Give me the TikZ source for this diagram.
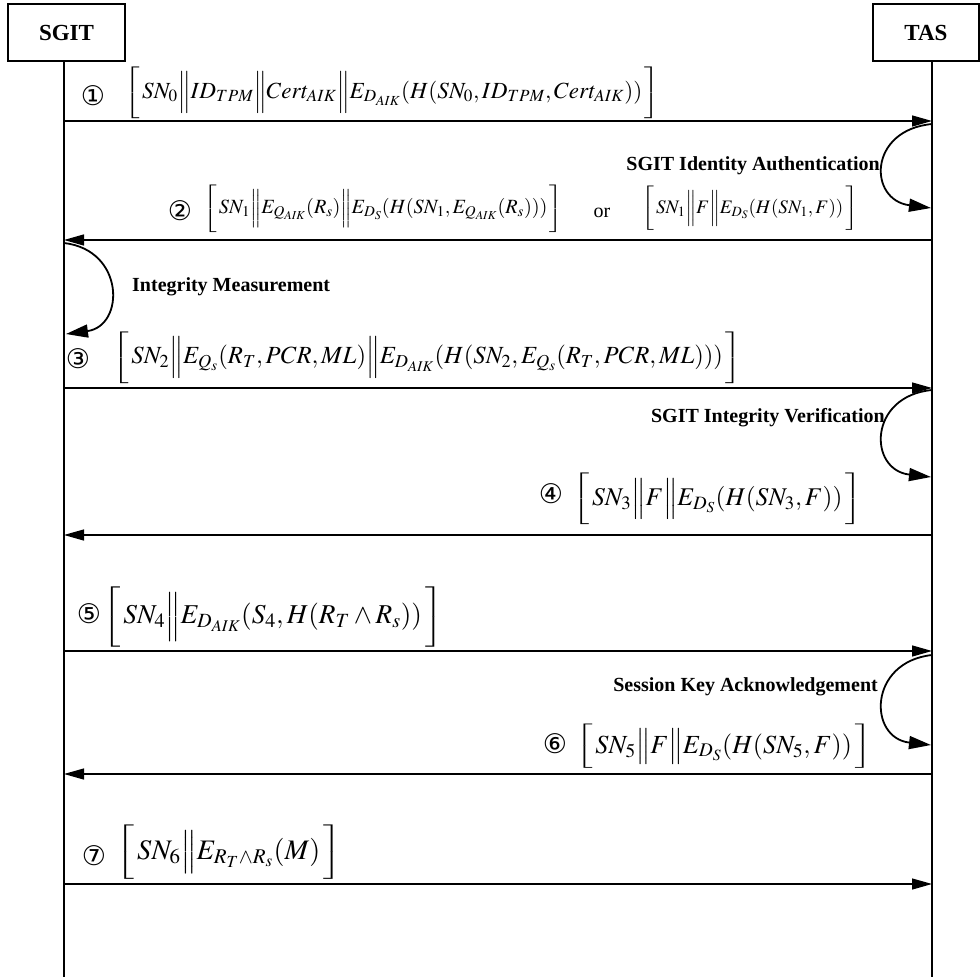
\documentclass[tikz,border=0pt]{standalone}
\usepackage{mathptmx}
\usepackage{fontspec}
\setmainfont{Liberation Serif}
\newfontfamily\circfont{DejaVu Sans}
\usepackage{graphicx}
\usetikzlibrary{arrows.meta}
% a tall delimiter glyph (#1), scaled vertically by #2 and #3, centred on the math axis
\newcommand{\tall}[3]{\mathord{\raisebox{0.25em}{\scalebox{1}[#2]{\scalebox{1}[#3]{\raisebox{-0.25em}{$\left#1\vrule height2.05em depth1.55em width0pt\right.$}}}}}}
% #1 = vertical factor, #2 = contents
\newcommand{\brk}[2]{\def\db{\tall{\|}{#1}{0.8}}\tall{[}{#1}{1}\,#2\,\tall{]}{#1}{1}}
\begin{document}
\setlength{\nulldelimiterspace}{0pt}
\begin{tikzpicture}[x=1pt,y=-1pt,
  hdr/.style={draw,line width=1.3pt,font=\bfseries\fontsize{23}{26}\selectfont,inner sep=0},
  life/.style={line width=2pt},
  msg/.style={line width=1.3pt,-{Triangle[length=20pt,width=11pt]}},
  proc/.style={line width=1.8pt,-{Triangle[length=22pt,width=13pt]}},
  lab/.style={inner sep=0,anchor=west,font=\fontsize{20}{24}\selectfont},
  circ/.style={inner sep=0,font=\circfont\fontsize{27}{30}\selectfont},
  act/.style={inner sep=0,font=\bfseries\fontsize{20}{24}\selectfont}]
\useasboundingbox (0,0) rectangle (980,977);
% headers
\node[hdr,minimum width=117pt,minimum height=57pt] (sgit) at (66.5,32.5) {SGIT};
\node[hdr,minimum width=106pt,minimum height=57pt] (tas) at (926,32.5) {TAS};
% lifelines
\coordinate (s0) at (64,61); \coordinate (s9) at (64,977);
\coordinate (t0) at (932,61); \coordinate (t9) at (932,977);
\draw[life] (s0) -- (s9);
\draw[life] (t0) -- (t9);
% message end points
\coordinate (s1) at (64,121);  \coordinate (t1) at (932,121);
\coordinate (s2) at (64,240);  \coordinate (t2) at (932,240);
\coordinate (s3) at (64,388);  \coordinate (t3) at (932,388);
\coordinate (s4) at (64,535);  \coordinate (t4) at (932,535);
\coordinate (s5) at (64,651);  \coordinate (t5) at (932,651);
\coordinate (s6) at (64,774);  \coordinate (t6) at (932,774);
\coordinate (s7) at (64,884);  \coordinate (t7) at (932,884);
\draw[msg] (s1) -- (t1);
\draw[msg] (t2) -- (s2);
\draw[msg] (s3) -- (t3);
\draw[msg] (t4) -- (s4);
\draw[msg] (s5) -- (t5);
\draw[msg] (t6) -- (s6);
\draw[msg] (s7) -- (t7);
% processing loops
\coordinate (pa0) at (932,124); \coordinate (pa1) at (931,208);
\draw[proc] (pa0) .. controls (868,130) and (868,200) .. (pa1);
\coordinate (pb0) at (64,243); \coordinate (pb1) at (66,334);
\draw[proc] (pb0) .. controls (125,250) and (125,326) .. (pb1);
\coordinate (pc0) at (932,390); \coordinate (pc1) at (931,477);
\draw[proc] (pc0) .. controls (868,396) and (868,470) .. (pc1);
\coordinate (pd0) at (932,655); \coordinate (pd1) at (931,745);
\draw[proc] (pd0) .. controls (868,662) and (868,738) .. (pd1);
\node[act,anchor=east] (actA) at (880,166) {SGIT Identity Authentication};
\node[act,anchor=west] (actB) at (132,287) {Integrity Measurement};
\node[act,anchor=east] (actC) at (885,418) {SGIT Integrity Verification};
\node[act,anchor=east] (actD) at (878,687) {Session Key Acknowledgement};
% circled numbers
\node[circ] (c1) at (93,96) {①};
\node[circ] (c2) at (180,211) {②};
\node[circ] (c3) at (78,359) {③};
\node[circ] (c4) at (551,494) {④};
\node[circ] (c5) at (89,614) {⑤};
\node[circ] (c6) at (555,744) {⑥};
\node[circ] (c7) at (94,856) {⑦};
% message labels
\node[lab] (l1) at (124,92.5) {\resizebox{536pt}{!}{$\brk{0.62}{SN_0\db ID_{TPM}\db Cert_{AIK}\db E_{D_{AIK}}(H(SN_0,ID_{TPM},Cert_{AIK}))}$}};
\node[lab] (l2a) at (203,208.5) {\resizebox{360pt}{!}{$\brk{0.65}{SN_1\db E_{Q_{AIK}}(R_s)\db E_{D_S}(H(SN_1,E_{Q_{AIK}}(R_s)))}$}};
\node[inner sep=0,font=\fontsize{20}{24}\selectfont] (or) at (602,213) {or};
\node[lab] (l2b) at (641,208.5) {\resizebox{217pt}{!}{$\brk{0.65}{SN_1\db F\db E_{D_S}(H(SN_1,F))}$}};
\node[lab] (l3) at (112,357.5) {\resizebox{630pt}{!}{$\brk{0.58}{SN_2\db E_{Q_s}(R_T,PCR,ML)\db E_{D_{AIK}}(H(SN_2,E_{Q_s}(R_T,PCR,ML)))}$}};
\node[lab] (l4) at (572,499) {\resizebox{290pt}{!}{$\brk{0.56}{SN_3\db F\db E_{D_S}(H(SN_3,F))}$}};
\node[lab] (l5) at (102,617) {\resizebox{341pt}{!}{$\brk{0.62}{SN_4\db E_{D_{AIK}}(S_4,H(R_T\wedge R_s))}$}};
\node[lab] (l6) at (575,746.5) {\resizebox{297pt}{!}{$\brk{0.475}{SN_5\db F\db E_{D_S}(H(SN_5,F))}$}};
\node[lab] (l7) at (115,852) {\resizebox{227pt}{!}{$\brk{0.54}{SN_6\db E_{R_T\wedge R_s}(M)}$}};
\end{tikzpicture}
\end{document}
